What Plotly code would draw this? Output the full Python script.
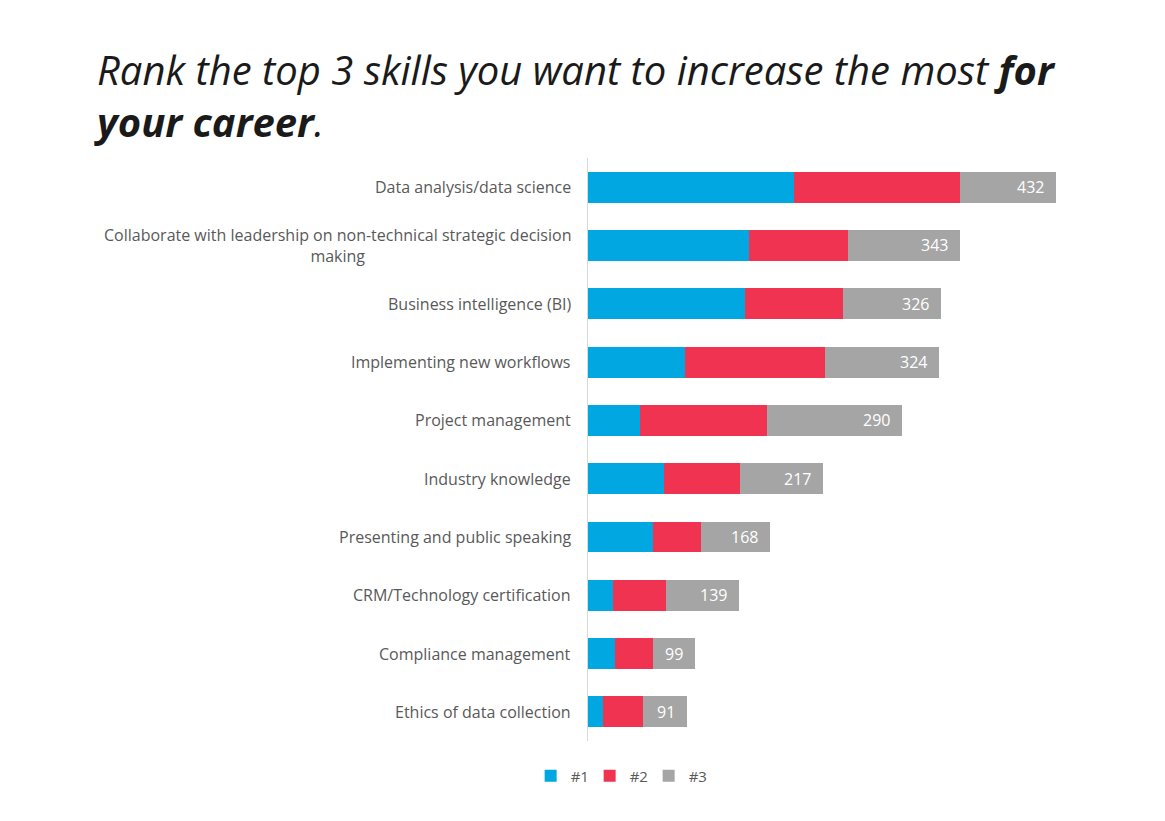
import plotly.graph_objects as go

skills = [
    "Data analysis/data science",
    "Collaborate with leadership on non-technical strategic decision<br>making",
    "Business intelligence (BI)",
    "Implementing new workflows",
    "Project management",
    "Industry knowledge",
    "Presenting and public speaking",
    "CRM/Technology certification",
    "Compliance management",
    "Ethics of data collection",
]
rank1 = [190, 149, 145, 90, 48, 70, 60, 23, 25, 14]
rank2 = [153, 91, 90, 129, 117, 70, 44, 49, 35, 37]
rank3 = [89, 103, 91, 105, 125, 77, 64, 67, 39, 40]
series_names = ["#1", "#2", "#3"]
colors = ["#00A7E1", "#EF3350", "#A5A5A5"]

totals = [a + b + c for a, b, c in zip(rank1, rank2, rank3)]

fig = go.Figure()
for name, vals, col in zip(series_names, [rank1, rank2, rank3], colors):
    fig.add_trace(go.Bar(
        y=skills, x=vals, name=name, orientation="h",
        marker=dict(color=col, line=dict(width=0)),
        hoverinfo="x+name",
    ))

# category labels (centred lines, right aligned block)
for s in skills:
    fig.add_annotation(
        x=0, y=s, xref="x", yref="y", text=s, showarrow=False,
        xanchor="right", yanchor="middle", align="center", xshift=-15,
        font=dict(family="Open Sans", size=16, color="#595959"),
    )

# totals at the end of each bar
for s, t in zip(skills, totals):
    fig.add_annotation(
        x=t, y=s, xref="x", yref="y", text=str(t), showarrow=False,
        xanchor="right", yanchor="middle", xshift=-10,
        font=dict(family="Open Sans", size=16, color="white"),
    )

fig.update_layout(
    width=1157, height=813,
    barmode="stack", bargap=0.47,
    plot_bgcolor="white", paper_bgcolor="white",
    margin=dict(l=580, r=95, t=150, b=80),
    font=dict(family="Open Sans", color="#595959"),
    title=dict(
        text="<i>Rank the top 3 skills you want to increase the most <b>for<br>your career</b>.</i>",
        x=89 / 1157, xref="container", xanchor="left",
        y=1 - 77 / 813, yref="container", yanchor="top",
        font=dict(family="Open Sans", size=40, color="#1a1a1a"),
    ),
    legend=dict(
        orientation="h", x=-0.119, xanchor="left", y=-0.06, yanchor="middle",
        font=dict(size=15, color="#595959"), traceorder="normal",
        entrywidth=14,
    ),
    showlegend=True,
)
fig.update_xaxes(range=[0, 445], showgrid=False, zeroline=False,
                 showticklabels=False, showline=False)
fig.update_yaxes(autorange="reversed", showticklabels=False, showgrid=False,
                 zeroline=False, showline=True, linecolor="#D9D9D9", linewidth=1)

fig.write_html("out.html")
